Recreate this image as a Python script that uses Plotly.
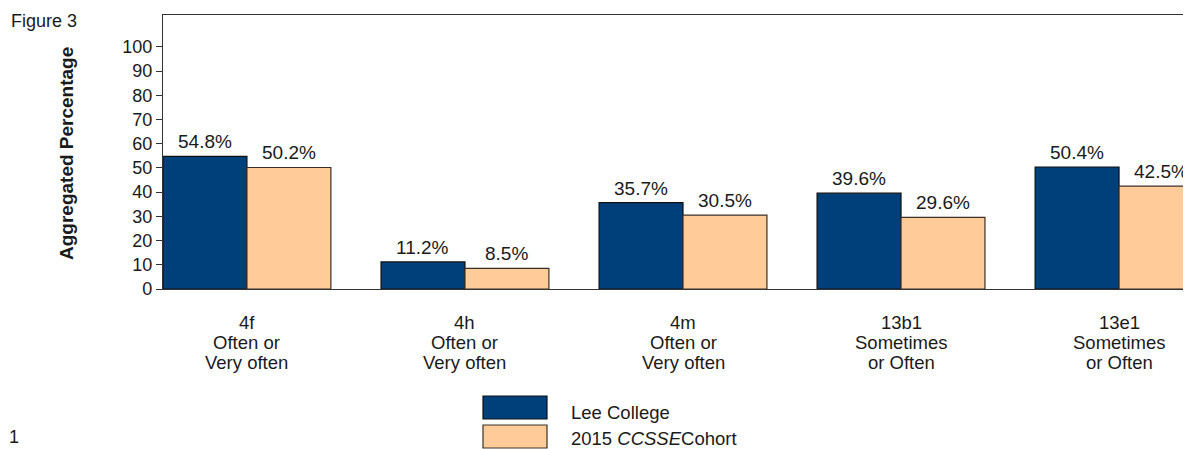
import plotly.graph_objects as go

categories = ["4f", "4h", "4m", "13b1", "13e1"]
cat_lines = [["4f", "Often or", "Very often"],
             ["4h", "Often or", "Very often"],
             ["4m", "Often or", "Very often"],
             ["13b1", "Sometimes", "or Often"],
             ["13e1", "Sometimes", "or Often"]]
lee_values = [54.8, 11.2, 35.7, 39.6, 50.4]
cohort_values = [50.2, 8.5, 30.5, 29.6, 42.5]
series_names = ["Lee College", "2015 <i>CCSSE</i>Cohort"]
y_ticks = [0, 10, 20, 30, 40, 50, 60, 70, 80, 90, 100]

LEE_COLOR = "#00407A"
COHORT_COLOR = "#FFCC99"
LEE_EDGE = "#111111"
COHORT_EDGE = "#3a3028"
TXT = "#1a1a1a"
FONT = "Liberation Sans, Arial, sans-serif"

# page body has an 8px margin; reference coords are page coords
OFF = 8
W, H = 1191 - OFF, 449 - OFF
PL, PT, PR, PB = 163, 15, 1191, 289      # plot area in page px
ML, MT = PL - OFF, PT - OFF
MR = (W + OFF) - PR
MB = (H + OFF) - PB
PW, PH = PR - PL, PB - PT

def px_x(px):
    return (px - PL) / PW

def px_y(py):
    return (PB - py) / PH

xs = list(range(len(categories)))
BAR_HALF_PX = 42

fig = go.Figure()
fig.add_trace(go.Bar(
    x=xs, y=lee_values, name=series_names[0],
    marker=dict(color=LEE_COLOR, line=dict(color=LEE_EDGE, width=1.2)),
))
fig.add_trace(go.Bar(
    x=xs, y=cohort_values, name=series_names[1],
    marker=dict(color=COHORT_COLOR, line=dict(color=COHORT_EDGE, width=1.2)),
))

# value labels above bars
for vals, shift in ((lee_values, -BAR_HALF_PX), (cohort_values, BAR_HALF_PX)):
    for i, v in zip(xs, vals):
        fig.add_annotation(x=i, y=v, xref="x", yref="y", text=f"{v:.1f}%",
                           showarrow=False, xshift=shift, yshift=2,
                           xanchor="center", yanchor="bottom",
                           font=dict(size=19, color=TXT, family=FONT))

# category labels below the axis, one line each
line_y = [322, 342, 362]
for i, lines in zip(xs, cat_lines):
    for ly, t in zip(line_y, lines):
        fig.add_annotation(x=i, y=px_y(ly), xref="x", yref="paper",
                           text=t, showarrow=False, yanchor="middle", xanchor="center",
                           font=dict(size=18.5, color=TXT, family=FONT))

# y-axis title
fig.add_annotation(x=px_x(66), y=px_y(154), xref="paper", yref="paper",
                   text="<b>Aggregated Percentage</b>", textangle=-90, showarrow=False,
                   xanchor="center", yanchor="middle",
                   font=dict(size=19, color=TXT, family=FONT))

# legend drawn manually
legend_colors = [LEE_COLOR, COHORT_COLOR]
legend_lines = [LEE_EDGE, COHORT_EDGE]
legend_rows = [(396, 419), (425, 448)]
legend_text_y = [412, 439]
for (top, bot), ty, col, lc, name in zip(legend_rows, legend_text_y, legend_colors,
                                         legend_lines, series_names):
    fig.add_shape(type="rect", xref="paper", yref="paper",
                  x0=px_x(483), x1=px_x(547), y0=px_y(bot), y1=px_y(top),
                  fillcolor=col, line=dict(color=lc, width=1.2))
    fig.add_annotation(x=px_x(570), y=px_y(ty), xref="paper", yref="paper",
                       text=name, showarrow=False, xanchor="left", yanchor="middle",
                       borderpad=0,
                       font=dict(size=18.5, color=TXT, family=FONT))

fig.add_annotation(x=px_x(9), y=px_y(21), xref="paper", yref="paper",
                   text="Figure 3", showarrow=False, xanchor="left", yanchor="middle",
                   font=dict(size=18, color=TXT, family=FONT))
fig.add_annotation(x=px_x(8), y=px_y(437), xref="paper", yref="paper",
                   text="1", showarrow=False, xanchor="left", yanchor="middle",
                   borderpad=0,
                   font=dict(size=18, color=TXT, family=FONT))

fig.update_layout(
    width=W, height=H,
    margin=dict(l=ML, r=MR, t=MT, b=MB, pad=0),
    paper_bgcolor="white", plot_bgcolor="white",
    barmode="group", bargap=0.23, bargroupgap=0,
    showlegend=False,
    font=dict(family=FONT, color=TXT),
    xaxis=dict(range=[-0.385, 4.33], showticklabels=False, ticks="",
               showline=True, linecolor="#333333", linewidth=1.2, mirror=True,
               showgrid=False, zeroline=False, fixedrange=True),
    yaxis=dict(range=[0, 113.2], tickvals=y_ticks, ticks="outside", ticklen=6,
               tickcolor="#333333", tickfont=dict(size=18, color=TXT, family=FONT),
               showline=True, linecolor="#333333", linewidth=1.2,
               showgrid=False, zeroline=False, fixedrange=True),
)

fig.write_html("out.html")
